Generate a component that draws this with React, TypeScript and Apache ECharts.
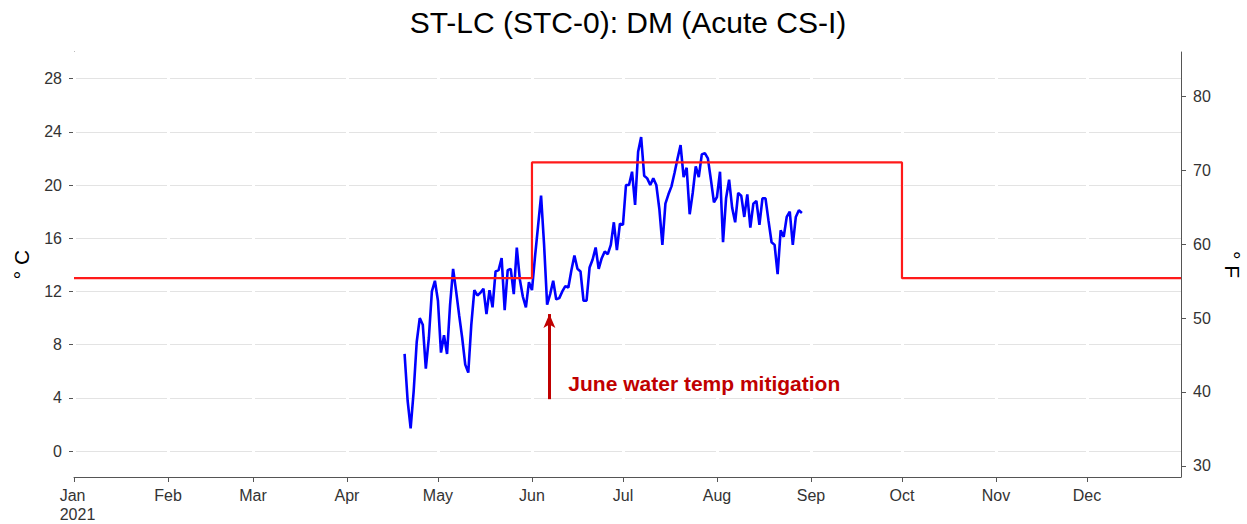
import React, { useEffect, useRef } from "react";
import * as echarts from "echarts";

const TITLE = "ST-LC (STC-0): DM (Acute CS-I)";
const MONTHS = ["Jan", "Feb", "Mar", "Apr", "May", "Jun", "Jul", "Aug", "Sep", "Oct", "Nov", "Dec"];
const YEAR = 2021;
const C_TICKS = [0, 4, 8, 12, 16, 20, 24, 28];
const F_TICKS = [30, 40, 50, 60, 70, 80];
const C_MIN = -1.95;
const C_MAX = 30;

// Daily maximum water temperature (°C), one value per day starting Apr 20, 2021
const DM_START = [2021, 3, 20];
const DM_VALUES = [
  7.3, 3.8, 1.7, 4.5, 8.2, 10.0, 9.5, 6.2, 8.5, 12.0, 12.8, 11.3, 7.4, 8.7, 7.3, 11.0,
  13.7, 12.0, 10.2, 8.5, 6.5, 5.9, 9.5, 12.1, 11.7, 11.9, 12.2, 10.3, 12.1, 10.8, 13.5, 13.6,
  14.5, 10.6, 13.6, 13.7, 11.8, 15.3, 12.9, 11.6, 10.8, 12.7, 12.1, 14.6, 16.9, 19.2, 15.5, 11.0,
  11.8, 12.8, 11.4, 11.5, 12.0, 12.4, 12.3, 13.6, 14.7, 13.7, 13.5, 11.3, 11.3, 13.8, 14.4, 15.3,
  13.7, 14.5, 15.0, 14.8, 15.5, 17.2, 15.1, 17.1, 17.0, 20.0, 20.0, 21.0, 18.5, 22.5, 23.6, 20.7,
  20.5, 20.0, 20.5, 20.0, 18.2, 15.5, 18.6, 19.3, 19.9, 20.9, 22.0, 23.0, 20.6, 21.3, 17.8, 19.4,
  21.4, 20.6, 22.3, 22.4, 22.0, 20.4, 18.7, 19.1, 21.0, 15.7, 19.0, 20.4, 18.3, 17.2, 19.4, 19.2,
  17.6, 19.3, 16.8, 18.6, 18.8, 17.0, 19.0, 19.0, 17.3, 15.7, 15.5, 13.3, 16.6, 16.1, 17.6, 18.0,
  15.5, 17.6, 18.1, 17.9,
];

// Acute criterion (°C) as a step line
const CRIT_DATES = [
  [2021, 0, 1], [2021, 5, 1], [2021, 5, 1], [2021, 9, 1], [2021, 9, 1], [2022, 0, 1],
];
const CRIT_VALUES = [13, 13, 21.7, 21.7, 13, 13];

// Annotation
const NOTE_TEXT = "June water temp mitigation";
const ARROW_DATE = [2021, 5, 6, 18];
const ARROW_FROM = 3.9;
const ARROW_TO = 10.3;
const NOTE_DATE = [2021, 5, 13];
const NOTE_VALUE = 5.1;

const FONT = "'Liberation Sans', Arial, Helvetica, sans-serif";
const toTime = (d: number[]) => new Date(d[0], d[1], d[2], d[3] || 0).getTime();

export default function App() {
  const ref = useRef<HTMLDivElement>(null);
  useEffect(() => {
    const chart = echarts.init(ref.current!, null, { renderer: "svg" });
    const dm = DM_VALUES.map((v, i) => [
      new Date(DM_START[0], DM_START[1], DM_START[2] + i).getTime(),
      v,
    ]);
    const crit = CRIT_VALUES.map((v, i) => [toTime(CRIT_DATES[i]), v]);
    const monthTicks = MONTHS.map((_, i) => new Date(YEAR, i, 1).getTime());
    const arrowT = toTime(ARROW_DATE);

    chart.setOption({
      animation: false,
      backgroundColor: "#ffffff",
      title: {
        text: TITLE,
        left: 628,
        top: 7,
        padding: 0,
        textAlign: "center",
        textStyle: { fontFamily: FONT, fontSize: 30, fontWeight: "normal", color: "#000" },
      },
      grid: { left: 74, right: 66, top: 52, bottom: 47, containLabel: false, outerBoundsMode: "none" },
      xAxis: {
        type: "value",
        min: toTime([YEAR, 0, 1]),
        max: toTime([YEAR + 1, 0, 1]),
        z: 1,
        axisLine: { show: true, onZero: false, lineStyle: { color: "#555", width: 1 } },
        axisTick: { show: true, length: 5, customValues: monthTicks, lineStyle: { color: "#555" } },
        axisLabel: {
          customValues: monthTicks,
          fontFamily: FONT,
          fontSize: 16,
          color: "#333",
          margin: 9,
          lineHeight: 19,
          hideOverlap: false,
          formatter: (v: number) => {
            const m = new Date(v).getMonth();
            return m === 0 ? `{y|${MONTHS[0]}}\n{y|${YEAR}}` : MONTHS[m];
          },
          rich: {
            y: {
              fontFamily: FONT,
              fontSize: 16,
              color: "#333",
              lineHeight: 19,
              align: "left",
              padding: [0, 0, 0, 7],
            },
          },
        },
        splitLine: { show: true, lineStyle: { color: "#ffffff", width: 3 } },
      },
      yAxis: [
        {
          type: "value",
          min: C_MIN,
          max: C_MAX,
          position: "left",
          name: "° C",
          nameLocation: "middle",
          nameGap: 42,
          nameRotate: 90,
          nameTextStyle: { fontFamily: FONT, fontSize: 21, color: "#000" },
          axisLine: { show: true, lineStyle: { color: "#555", width: 1 } },
          axisTick: { show: true, length: 5, customValues: C_TICKS, lineStyle: { color: "#555" } },
          axisLabel: { customValues: C_TICKS, fontFamily: FONT, fontSize: 16, color: "#333", margin: 12 },
          splitLine: { show: true, lineStyle: { color: "#e3e3e3", width: 1 } },
        },
        {
          type: "value",
          min: C_MIN * 1.8 + 32,
          max: C_MAX * 1.8 + 32,
          position: "right",
          name: "° F",
          nameLocation: "middle",
          nameGap: 37,
          nameRotate: -90,
          nameTextStyle: { fontFamily: FONT, fontSize: 21, color: "#000" },
          axisLine: { show: true, lineStyle: { color: "#555", width: 1 } },
          axisTick: { show: true, length: 5, customValues: F_TICKS, lineStyle: { color: "#555" } },
          axisLabel: { customValues: F_TICKS, fontFamily: FONT, fontSize: 16, color: "#333", margin: 12 },
          splitLine: { show: false },
        },
      ],
      series: [
        {
          type: "line",
          name: "DM",
          data: dm,
          showSymbol: false,
          lineStyle: { color: "#0000ff", width: 2.6 },
          itemStyle: { color: "#0000ff" },
          z: 3,
          markLine: {
            silent: true,
            symbol: ["none", "arrow"],
            symbolSize: [9, 14],
            label: { show: false },
            lineStyle: { color: "#c00000", width: 3, type: "solid" },
            itemStyle: { color: "#c00000" },
            data: [[{ coord: [arrowT, ARROW_FROM] }, { coord: [arrowT, ARROW_TO] }]],
          },
        },
        {
          type: "line",
          name: "Criterion",
          data: crit,
          showSymbol: false,
          lineStyle: { color: "#ff1a1a", width: 2.2 },
          itemStyle: { color: "#ff1a1a" },
          z: 4,
        },
      ],
    });

    const p = chart.convertToPixel({ gridIndex: 0 }, [toTime(NOTE_DATE), NOTE_VALUE]) as number[];
    chart.setOption({
      graphic: [
        {
          type: "text",
          x: p[0],
          y: p[1],
          z: 20,
          style: {
            text: NOTE_TEXT,
            fill: "#c00000",
            fontFamily: FONT,
            fontSize: 21,
            fontWeight: "bold",
            verticalAlign: "middle",
            align: "left",
          },
        },
      ],
    });

    return () => chart.dispose();
  }, []);

  return (
    <div
      ref={ref}
      style={{ position: "fixed", left: 0, top: 0, width: 1247, height: 524 }}
    />
  );
}
